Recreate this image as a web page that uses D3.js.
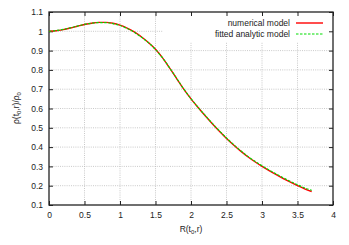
<!DOCTYPE html>
<html>
<head>
<meta charset="utf-8">
<script src="https://cdn.jsdelivr.net/npm/d3@7"></script>
<style>
  body { margin: 0; background: #fff; }
  text { font-family: "Liberation Sans", Arial, sans-serif; font-size: 8.5px; fill: #222; }
</style>
</head>
<body>
<svg id="chart" width="349" height="245"></svg>
<script>
// radius values R(t0,r)
const radius = [0, 0.1, 0.2, 0.3, 0.4, 0.5, 0.6, 0.7, 0.8, 0.9, 1.0, 1.1, 1.2, 1.3, 1.4, 1.5,
  1.6, 1.7, 1.8, 1.9, 2.0, 2.1, 2.2, 2.3, 2.4, 2.5, 2.6, 2.7, 2.8, 2.9, 3.0, 3.1, 3.2, 3.3,
  3.4, 3.5, 3.6, 3.7];
const numerical = [1.000, 1.003, 1.009, 1.017, 1.026, 1.035, 1.042, 1.046, 1.046, 1.042,
  1.032, 1.017, 0.997, 0.972, 0.942, 0.907, 0.862, 0.809, 0.754, 0.699, 0.650, 0.605,
  0.562, 0.521, 0.482, 0.445, 0.411, 0.379, 0.350, 0.324, 0.300, 0.278, 0.257, 0.237,
  0.218, 0.200, 0.184, 0.170];
const fitted = [1.000, 1.004, 1.010, 1.018, 1.027, 1.036, 1.042, 1.045, 1.045, 1.040,
  1.030, 1.015, 0.995, 0.970, 0.941, 0.906, 0.862, 0.810, 0.755, 0.700, 0.651, 0.606,
  0.564, 0.523, 0.484, 0.447, 0.413, 0.381, 0.352, 0.327, 0.303, 0.281, 0.261, 0.241,
  0.222, 0.205, 0.189, 0.176];
const xTicks = [0, 0.5, 1, 1.5, 2, 2.5, 3, 3.5, 4];
const yTicks = [0.1, 0.2, 0.3, 0.4, 0.5, 0.6, 0.7, 0.8, 0.9, 1, 1.1];
const seriesNames = ["numerical model", "fitted analytic model"];

const svg = d3.select("#chart");
const m = {left: 49, right: 333, top: 12, bottom: 205};

const x = d3.scaleLinear().domain([0, 4]).range([m.left, m.right]);
const y = d3.scaleLinear().domain([0.1, 1.1]).range([m.bottom, m.top]);

// grid
const grid = svg.append("g")
  .attr("stroke", "#bbb")
  .attr("stroke-width", 0.8)
  .attr("stroke-dasharray", "1,1.2");
grid.selectAll(".gx").data(xTicks.slice(1, -1)).join("line")
  .attr("x1", d => x(d)).attr("x2", d => x(d))
  .attr("y1", m.top).attr("y2", m.bottom);
grid.selectAll(".gy").data(yTicks.slice(1, -1)).join("line")
  .attr("x1", m.left).attr("x2", m.right)
  .attr("y1", d => y(d)).attr("y2", d => y(d));

// legend background hides the grid
svg.append("rect")
  .attr("x", 163).attr("y", m.top + 1)
  .attr("width", m.right - 164).attr("height", 29)
  .attr("fill", "#fff");

// axes with inward ticks on all sides
const fmt = d => String(d);
svg.append("g").attr("transform", `translate(0,${m.bottom})`)
  .call(d3.axisBottom(x).tickValues(xTicks).tickFormat(fmt).tickSizeInner(-4).tickSizeOuter(0).tickPadding(7));
svg.append("g").attr("transform", `translate(0,${m.top})`)
  .call(d3.axisTop(x).tickValues(xTicks).tickFormat("").tickSizeInner(-4).tickSizeOuter(0));
svg.append("g").attr("transform", `translate(${m.left},0)`)
  .call(d3.axisLeft(y).tickValues(yTicks).tickFormat(fmt).tickSizeInner(-4).tickSizeOuter(0).tickPadding(6));
svg.append("g").attr("transform", `translate(${m.right},0)`)
  .call(d3.axisRight(y).tickValues(yTicks).tickFormat("").tickSizeInner(-4).tickSizeOuter(0));
svg.selectAll(".domain").remove();
svg.selectAll(".tick line").attr("stroke", "#222").attr("stroke-width", 1);
svg.selectAll(".tick text").attr("font-size", 8.5).attr("fill", "#222")
  .attr("font-family", "Liberation Sans, Arial, sans-serif");

// frame
svg.append("rect")
  .attr("x", m.left).attr("y", m.top)
  .attr("width", m.right - m.left).attr("height", m.bottom - m.top)
  .attr("fill", "none").attr("stroke", "#222").attr("stroke-width", 1.3);

// curves
const line = vals => d3.line()
  .x((d, i) => x(radius[i]))
  .y(d => y(d))
  .curve(d3.curveMonotoneX)(vals);

svg.append("path").attr("d", line(numerical))
  .attr("fill", "none").attr("stroke", "#ff0000").attr("stroke-width", 1.4);
svg.append("path").attr("d", line(fitted))
  .attr("fill", "none").attr("stroke", "#00dd00").attr("stroke-width", 1.2)
  .attr("stroke-dasharray", "2.5,1.5");

// legend
const legend = svg.append("g");
const legendColors = ["#ff0000", "#00dd00"];
const legendDash = [null, "2.5,1.5"];
seriesNames.forEach((name, i) => {
  const ly = 23 + i * 11;
  legend.append("text").attr("x", 290).attr("y", ly + 3)
    .attr("text-anchor", "end").text(name);
  legend.append("line")
    .attr("x1", 296).attr("x2", 323).attr("y1", ly).attr("y2", ly)
    .attr("stroke", legendColors[i]).attr("stroke-width", i ? 1.2 : 1.4)
    .attr("stroke-dasharray", legendDash[i]);
});

// axis titles
const xt = svg.append("text").attr("x", 191).attr("y", 232).attr("text-anchor", "middle");
xt.append("tspan").text("R(t");
xt.append("tspan").attr("font-size", 6).attr("dy", 2).text("0");
xt.append("tspan").attr("dy", -2).text(",r)");

const yt = svg.append("text")
  .attr("transform", "translate(19,108) rotate(-90)")
  .attr("text-anchor", "middle");
yt.append("tspan").text("ρ(t");
yt.append("tspan").attr("font-size", 6).attr("dy", 2).text("0");
yt.append("tspan").attr("dy", -2).text(",r)/ρ");
yt.append("tspan").attr("font-size", 6).attr("dy", 2).text("0");
</script>
</body>
</html>
